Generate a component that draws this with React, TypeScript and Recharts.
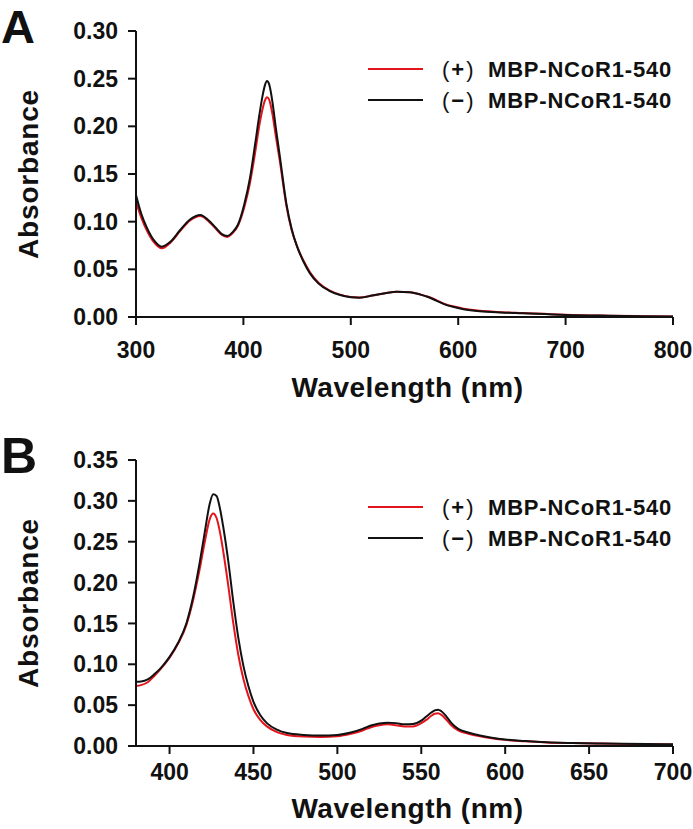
import { LineChart, Line, XAxis, YAxis } from 'recharts';

// panel A: 300-800 nm
const wlA = [300, 305, 310, 317, 324, 332, 341, 350, 360, 367, 374, 380, 385, 390, 395, 401, 406, 411, 415, 418, 420, 422, 424, 427, 430, 434, 440, 445, 450, 456, 462, 470, 480, 490, 500, 508, 520, 532, 543, 555, 565, 572, 580, 588, 596, 605, 620, 640, 660, 680, 700, 740, 770, 800];
const minusA = [0.128, 0.108, 0.094, 0.08, 0.0738, 0.079, 0.091, 0.102, 0.107, 0.102, 0.094, 0.087, 0.085, 0.089, 0.097, 0.119, 0.145, 0.182, 0.213, 0.233, 0.243, 0.2476, 0.244, 0.226, 0.2, 0.168, 0.119, 0.092, 0.0738, 0.058, 0.0458, 0.035, 0.0275, 0.023, 0.0208, 0.0203, 0.0225, 0.025, 0.0266, 0.026, 0.0235, 0.021, 0.017, 0.013, 0.0105, 0.0082, 0.006, 0.0047, 0.0039, 0.0031, 0.0022, 0.0013, 0.0008, 0.0004];
const plusA = [0.121, 0.104, 0.091, 0.078, 0.072, 0.078, 0.09, 0.101, 0.106, 0.101, 0.093, 0.086, 0.084, 0.088, 0.096, 0.116, 0.14, 0.173, 0.202, 0.219, 0.227, 0.2305, 0.228, 0.213, 0.191, 0.163, 0.117, 0.091, 0.074, 0.059, 0.047, 0.036, 0.028, 0.0235, 0.021, 0.0205, 0.0225, 0.025, 0.0265, 0.026, 0.0235, 0.0212, 0.0175, 0.0135, 0.011, 0.0088, 0.0065, 0.0051, 0.0042, 0.0033, 0.0024, 0.0014, 0.0009, 0.0005];

// panel B: 380-700 nm
const wlB = [380, 383, 387, 391, 395, 400, 405, 410, 414, 418, 421, 424, 426, 428, 430, 432, 435, 438, 441, 444, 447, 450, 454, 458, 464, 470, 480, 490, 500, 508, 515, 520, 525, 530, 535, 540, 545, 550, 553, 556, 558, 560, 562, 565, 568, 572, 578, 585, 592, 600, 612, 625, 640, 655, 670, 685, 700];
const minusB = [0.0787, 0.079, 0.0815, 0.088, 0.096, 0.109, 0.126, 0.15, 0.182, 0.225, 0.262, 0.297, 0.308, 0.306, 0.291, 0.268, 0.226, 0.176, 0.132, 0.098, 0.073, 0.054, 0.038, 0.028, 0.02, 0.0158, 0.0135, 0.0127, 0.0135, 0.0165, 0.021, 0.025, 0.0275, 0.0286, 0.028, 0.0265, 0.0268, 0.031, 0.036, 0.041, 0.0435, 0.0445, 0.0425, 0.036, 0.028, 0.021, 0.0165, 0.0128, 0.0102, 0.008, 0.006, 0.0045, 0.0037, 0.0032, 0.0027, 0.0023, 0.002];
const plusB = [0.0734, 0.0745, 0.078, 0.086, 0.095, 0.108, 0.125, 0.148, 0.178, 0.217, 0.25, 0.278, 0.2845, 0.279, 0.262, 0.238, 0.196, 0.15, 0.111, 0.082, 0.061, 0.045, 0.032, 0.024, 0.017, 0.0135, 0.0115, 0.011, 0.012, 0.015, 0.019, 0.023, 0.0255, 0.0265, 0.0255, 0.024, 0.024, 0.028, 0.032, 0.037, 0.0395, 0.04, 0.038, 0.032, 0.025, 0.019, 0.015, 0.0118, 0.0095, 0.0075, 0.0057, 0.0044, 0.0036, 0.0031, 0.0026, 0.0022, 0.0019];

const xTicksA = [300, 400, 500, 600, 700, 800];
const yTicksA = [0, 0.05, 0.1, 0.15, 0.2, 0.25, 0.3];
const xTicksB = [400, 450, 500, 550, 600, 650, 700];
const yTicksB = [0, 0.05, 0.1, 0.15, 0.2, 0.25, 0.3, 0.35];

const seriesNames = ['(+) MBP-NCoR1-540', '(−) MBP-NCoR1-540'];
const seriesColors = ['#e3141c', '#111111'];

const FONT = '"Liberation Sans", Arial, sans-serif';
const INK = '#111';

const toRows = (wl: number[], plus: number[], minus: number[]) =>
  wl.map((w, i) => ({ wl: w, plus: plus[i], minus: minus[i] }));

const dataA = toRows(wlA, plusA, minusA);
const dataB = toRows(wlB, plusB, minusB);

function Panel({ data, xDomain, xTicks, yDomain, yTicks, height, top, plotTop, plotBottom, xTickGap, xTitleDy }: any) {
  const tickStyle = { fill: INK, fontSize: 23, fontWeight: 700, fontFamily: FONT };
  return (
    <div style={{ position: 'absolute', left: 0, top }}>
      <LineChart width={693} height={height} data={data} margin={{ top: plotTop, right: 20, bottom: 0, left: 0 }}>
        <XAxis
          dataKey="wl"
          type="number"
          domain={xDomain}
          ticks={xTicks}
          allowDataOverflow
          height={height - plotBottom}
          tickSize={8}
          tickMargin={xTickGap}
          tick={tickStyle}
          axisLine={{ stroke: INK, strokeWidth: 2 }}
          tickLine={{ stroke: INK, strokeWidth: 2 }}
          label={(p: any) => {
            const vb = p.viewBox || {};
            return (
              <text x={vb.x + vb.width / 2 + 3} y={vb.y + xTitleDy} textAnchor="middle" fill={INK}
                style={{ fontSize: 28, fontWeight: 700, fontFamily: FONT, letterSpacing: 0.5 }}>
                Wavelength (nm)
              </text>
            );
          }}
        />
        <YAxis
          type="number"
          domain={yDomain}
          ticks={yTicks}
          width={136}
          tickSize={8}
          tickMargin={10}
          tick={tickStyle}
          tickFormatter={(v: number) => v.toFixed(2)}
          axisLine={{ stroke: INK, strokeWidth: 2 }}
          tickLine={{ stroke: INK, strokeWidth: 2 }}
          label={(p: any) => {
            const vb = p.viewBox || {};
            const cx = vb.x + 38;
            const cy = vb.y + vb.height / 2;
            return (
              <text x={cx} y={cy} transform={`rotate(-90 ${cx} ${cy})`} textAnchor="middle" fill={INK}
                style={{ fontSize: 28, fontWeight: 700, fontFamily: FONT, letterSpacing: 0.8 }}>
                Absorbance
              </text>
            );
          }}
        />
        <Line dataKey="plus" type="monotone" stroke={seriesColors[0]} strokeWidth={2} dot={false} isAnimationActive={false} />
        <Line dataKey="minus" type="monotone" stroke={seriesColors[1]} strokeWidth={2} dot={false} isAnimationActive={false} />
      </LineChart>
    </div>
  );
}

function LegendBlock({ y }: { y: number }) {
  return (
    <g>
      {seriesNames.map((name, i) => {
        const ly = y + i * 31;
        return (
          <g key={name}>
            <line x1={368} x2={423} y1={ly} y2={ly} stroke={seriesColors[i]} strokeWidth={2} />
            <text x={442} y={ly + 8} fill={INK} style={{ fontSize: 22, fontFamily: FONT, letterSpacing: 2 }}>
              <tspan fontWeight={400}>{name.slice(0, 1)}</tspan>
              <tspan fontWeight={700}>{name.slice(1, 2)}</tspan>
              <tspan fontWeight={400}>{name.slice(2, 3)}</tspan>
            </text>
            <text x={488} y={ly + 8} fill={INK} style={{ fontSize: 22, fontWeight: 700, fontFamily: FONT, letterSpacing: 0.8 }}>
              {name.slice(4)}
            </text>
          </g>
        );
      })}
    </g>
  );
}

export default function App() {
  return (
    <div style={{ position: 'absolute', left: 0, top: 0, width: 693, height: 829, background: '#fff' }}>
      <Panel data={dataA} xDomain={[300, 800]} xTicks={xTicksA} yDomain={[0, 0.3]} yTicks={yTicksA}
        height={410} top={0} plotTop={31} plotBottom={317} xTickGap={17} xTitleDy={80} />
      <Panel data={dataB} xDomain={[380, 700]} xTicks={xTicksB} yDomain={[0, 0.35]} yTicks={yTicksB}
        height={414} top={415} plotTop={45} plotBottom={331} xTickGap={10} xTitleDy={72} />
      <svg width={693} height={829} style={{ position: 'absolute', left: 0, top: 0, pointerEvents: 'none' }}>
        <text x={1} y={43} fill={INK} style={{ fontSize: 47, fontWeight: 700, fontFamily: FONT }}>A</text>
        <text x={1} y={473} fill={INK} style={{ fontSize: 50, fontWeight: 700, fontFamily: FONT }}>B</text>
        <LegendBlock y={69} />
        <LegendBlock y={507} />
      </svg>
    </div>
  );
}
